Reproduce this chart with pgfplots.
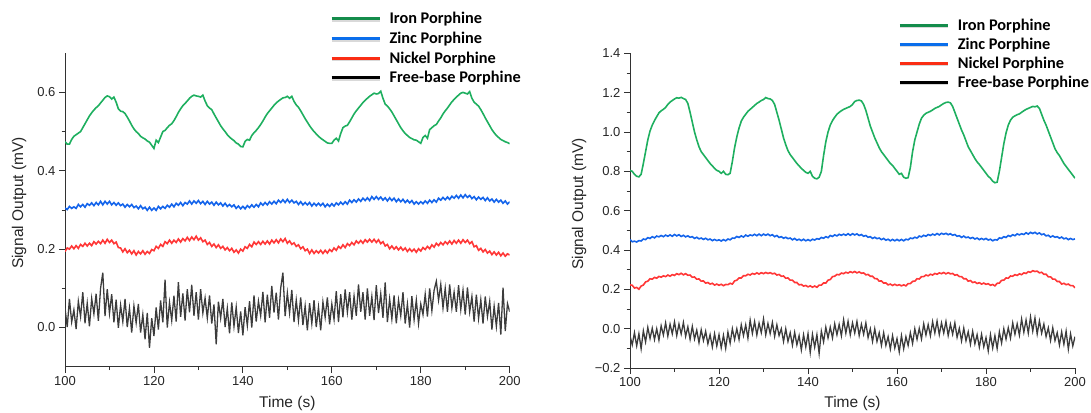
\documentclass[border=0pt]{standalone}
\usepackage{fontspec}
\setmainfont{Liberation Sans}
\newfontfamily\legfont{Carlito}
\usepackage{pgfplots}
\usepackage{pgfplotstable}
\pgfplotsset{compat=1.18}
\definecolor{pgreen}{RGB}{30,175,95}
\definecolor{pblue}{RGB}{20,100,235}
\definecolor{pred}{RGB}{255,55,55}
\definecolor{pblack}{RGB}{60,60,60}
\definecolor{lgreen}{RGB}{20,140,75}
\definecolor{lblue}{RGB}{10,110,235}
\definecolor{lred}{RGB}{250,45,20}
\definecolor{axcol}{RGB}{50,50,50}

\pgfplotstableread{
t fe zn ni fb
100 0.474 0.305 0.194 0.050
100.5 0.468 0.301 0.203 0.001
101 0.468 0.309 0.200 0.073
101.5 0.480 0.304 0.208 0.014
102 0.488 0.308 0.201 0.045
102.5 0.492 0.304 0.209 -0.004
103 0.496 0.314 0.202 0.067
103.5 0.500 0.308 0.212 0.028
104 0.510 0.314 0.207 0.090
104.5 0.520 0.307 0.215 0.011
105 0.530 0.316 0.208 0.062
105.5 0.540 0.312 0.215 0.003
106 0.548 0.318 0.209 0.074
106.5 0.555 0.311 0.219 0.035
107 0.561 0.319 0.213 0.086
107.5 0.566 0.313 0.220 0.017
108 0.573 0.322 0.214 0.100
108.5 0.580 0.313 0.223 0.140
109 0.587 0.322 0.215 0.029
109.5 0.591 0.315 0.225 0.098
110 0.589 0.322 0.217 0.036
110.5 0.583 0.313 0.223 0.085
111 0.588 0.319 0.214 0.013
111.5 0.575 0.312 0.218 0.071
112 0.558 0.318 0.204 -0.001
112.5 0.552 0.311 0.203 0.057
113 0.551 0.315 0.193 0.015
113.5 0.546 0.307 0.201 0.073
114 0.537 0.314 0.191 0.001
114.5 0.527 0.308 0.197 0.049
115 0.516 0.314 0.188 -0.013
115.5 0.507 0.306 0.196 0.055
116 0.500 0.310 0.185 0.012
116.5 0.495 0.303 0.194 0.060
117 0.488 0.311 0.188 -0.013
117.5 0.484 0.303 0.196 0.033
118 0.481 0.307 0.187 -0.030
118.5 0.476 0.299 0.194 0.037
119 0.473 0.307 0.189 -0.052
119.5 0.465 0.299 0.199 0.024
120 0.457 0.305 0.196 -0.022
120.5 0.478 0.299 0.207 0.051
121 0.472 0.309 0.202 -0.005
121.5 0.486 0.303 0.212 0.069
122 0.500 0.309 0.207 0.013
122.5 0.503 0.304 0.219 0.122
123 0.510 0.312 0.214 0.000
123.5 0.516 0.307 0.223 0.064
124 0.520 0.315 0.215 0.018
124.5 0.528 0.308 0.223 0.081
125 0.538 0.317 0.217 0.015
125.5 0.549 0.312 0.226 0.116
126 0.558 0.319 0.218 0.027
126.5 0.566 0.311 0.227 0.087
127 0.572 0.319 0.221 0.018
127.5 0.578 0.315 0.230 0.098
128 0.585 0.323 0.222 0.039
128.5 0.590 0.315 0.231 0.109
129 0.593 0.323 0.224 0.030
129.5 0.591 0.317 0.233 0.090
130 0.590 0.324 0.223 0.020
130.5 0.588 0.316 0.229 0.098
131 0.593 0.322 0.219 0.037
131.5 0.578 0.314 0.223 0.075
132 0.566 0.322 0.212 0.024
132.5 0.560 0.315 0.217 0.082
133 0.556 0.320 0.207 0.010
133.5 0.545 0.312 0.213 0.059
134 0.535 0.320 0.204 -0.043
134.5 0.525 0.313 0.211 0.066
135 0.515 0.318 0.202 0.024
135.5 0.507 0.310 0.207 0.073
136 0.500 0.317 0.198 0.001
136.5 0.492 0.309 0.204 0.049
137 0.486 0.314 0.196 -0.015
137.5 0.481 0.308 0.202 0.064
138 0.477 0.313 0.192 0.003
138.5 0.471 0.304 0.198 0.052
139 0.468 0.310 0.190 -0.014
139.5 0.462 0.303 0.200 0.041
140 0.461 0.309 0.195 -0.020
140.5 0.475 0.303 0.206 0.052
141 0.480 0.311 0.202 0.005
141.5 0.478 0.306 0.212 0.067
142 0.490 0.313 0.206 0.000
142.5 0.497 0.307 0.218 0.082
143 0.503 0.314 0.212 0.015
143.5 0.510 0.308 0.219 0.067
144 0.518 0.318 0.212 0.030
144.5 0.527 0.312 0.220 0.091
145 0.537 0.319 0.213 0.013
145.5 0.546 0.313 0.221 0.084
146 0.553 0.321 0.213 0.025
146.5 0.560 0.315 0.223 0.106
147 0.567 0.322 0.216 0.038
147.5 0.573 0.316 0.224 0.089
148 0.578 0.325 0.216 0.020
148.5 0.582 0.319 0.226 0.100
149 0.586 0.326 0.219 0.140
149.5 0.587 0.319 0.227 0.029
150 0.590 0.327 0.215 0.088
150.5 0.585 0.319 0.221 0.037
151 0.590 0.325 0.212 0.096
151.5 0.577 0.318 0.216 0.014
152 0.568 0.322 0.207 0.070
152.5 0.562 0.314 0.211 0.018
153 0.553 0.321 0.201 0.077
153.5 0.543 0.313 0.206 0.006
154 0.533 0.319 0.196 0.055
154.5 0.524 0.313 0.200 -0.007
155 0.515 0.319 0.189 0.062
155.5 0.507 0.310 0.198 0.010
156 0.500 0.317 0.189 0.070
156.5 0.494 0.311 0.196 0.001
157 0.488 0.317 0.190 0.052
157.5 0.483 0.311 0.197 -0.007
158 0.479 0.317 0.189 0.065
158.5 0.475 0.308 0.197 0.026
159 0.471 0.315 0.190 0.077
159.5 0.470 0.309 0.199 0.008
160 0.470 0.316 0.194 0.060
160.5 0.478 0.310 0.203 0.021
161 0.483 0.318 0.197 0.093
161.5 0.476 0.313 0.207 0.014
162 0.495 0.320 0.202 0.085
162.5 0.510 0.314 0.211 0.026
163 0.514 0.321 0.204 0.097
163.5 0.516 0.315 0.214 0.039
164 0.525 0.325 0.209 0.090
164.5 0.535 0.319 0.217 0.020
165 0.545 0.326 0.211 0.080
165.5 0.553 0.320 0.221 0.030
166 0.560 0.328 0.215 0.110
166.5 0.567 0.322 0.222 0.040
167 0.574 0.330 0.215 0.090
167.5 0.580 0.324 0.224 0.020
168 0.585 0.331 0.218 0.100
168.5 0.590 0.324 0.225 0.030
169 0.594 0.334 0.218 0.079
169.5 0.598 0.327 0.225 0.019
170 0.596 0.334 0.217 0.108
170.5 0.597 0.327 0.224 0.037
171 0.603 0.333 0.214 0.086
171.5 0.585 0.325 0.219 0.025
172 0.570 0.331 0.208 0.115
172.5 0.565 0.323 0.212 0.014
173 0.558 0.331 0.201 0.073
173.5 0.550 0.324 0.208 0.022
174 0.540 0.330 0.200 0.082
174.5 0.530 0.321 0.206 0.011
175 0.520 0.328 0.198 0.070
175.5 0.510 0.321 0.205 0.030
176 0.502 0.327 0.197 0.090
176.5 0.495 0.319 0.203 0.010
177 0.490 0.325 0.194 0.060
177.5 0.485 0.318 0.201 0.000
178 0.482 0.324 0.194 0.080
178.5 0.479 0.315 0.200 0.020
179 0.478 0.321 0.192 0.070
179.5 0.474 0.315 0.201 0.010
180 0.470 0.321 0.195 0.060
180.5 0.485 0.316 0.204 0.033
181 0.490 0.323 0.199 0.085
181.5 0.483 0.317 0.207 0.028
182 0.505 0.325 0.201 0.100
182.5 0.510 0.319 0.211 0.043
183 0.515 0.326 0.205 0.095
183.5 0.518 0.320 0.215 0.118
184 0.527 0.330 0.209 0.070
184.5 0.535 0.325 0.217 0.110
185 0.545 0.332 0.211 0.050
185.5 0.553 0.326 0.219 0.100
186 0.560 0.333 0.213 0.040
186.5 0.568 0.327 0.221 0.110
187 0.576 0.335 0.213 0.050
187.5 0.582 0.330 0.222 0.090
188 0.588 0.337 0.215 0.040
188.5 0.593 0.330 0.223 0.108
189 0.598 0.338 0.215 0.046
189.5 0.600 0.331 0.224 0.095
190 0.598 0.339 0.217 0.033
190.5 0.596 0.332 0.223 0.102
191 0.602 0.337 0.214 0.040
191.5 0.585 0.329 0.219 0.079
192 0.575 0.334 0.206 0.015
192.5 0.570 0.326 0.209 0.084
193 0.565 0.333 0.197 0.023
193.5 0.556 0.327 0.202 0.071
194 0.546 0.332 0.193 0.010
194.5 0.535 0.324 0.199 0.079
195 0.525 0.331 0.190 0.028
195.5 0.515 0.323 0.195 0.067
196 0.505 0.328 0.186 -0.005
196.5 0.497 0.320 0.193 0.054
197 0.490 0.327 0.185 0.003
197.5 0.485 0.320 0.192 0.063
198 0.480 0.325 0.183 -0.018
198.5 0.477 0.317 0.190 0.102
199 0.474 0.323 0.182 -0.009
199.5 0.472 0.315 0.188 0.061
200 0.469 0.321 0.185 0.040
}\leftdata

\pgfplotstableread{
t fe zn ni fb
100 0.805 0.453 0.223 -0.035
100.5 0.800 0.442 0.221 -0.082
101 0.785 0.445 0.207 -0.020
101.5 0.775 0.441 0.210 -0.087
102 0.772 0.448 0.201 -0.025
102.5 0.785 0.446 0.217 -0.102
103 0.840 0.456 0.222 -0.010
103.5 0.900 0.453 0.238 -0.067
104 0.960 0.463 0.242 0.007
104.5 1.005 0.459 0.254 -0.050
105 1.035 0.468 0.252 0.003
105.5 1.058 0.462 0.261 -0.055
106 1.078 0.471 0.257 0.000
106.5 1.097 0.467 0.266 -0.058
107 1.108 0.474 0.262 0.015
107.5 1.115 0.468 0.269 -0.032
108 1.125 0.476 0.265 0.030
108.5 1.140 0.470 0.273 -0.038
109 1.152 0.477 0.267 0.023
109.5 1.160 0.470 0.275 -0.026
110 1.168 0.479 0.271 0.035
110.5 1.174 0.472 0.280 -0.035
111 1.172 0.478 0.275 0.024
111.5 1.176 0.469 0.282 -0.027
112 1.170 0.475 0.274 0.032
112.5 1.165 0.467 0.280 -0.039
113 1.145 0.472 0.272 0.010
113.5 1.100 0.465 0.273 -0.054
114 1.050 0.468 0.262 0.012
114.5 1.000 0.459 0.263 -0.052
115 0.960 0.465 0.252 -0.007
115.5 0.925 0.457 0.253 -0.071
116 0.900 0.461 0.242 -0.005
116.5 0.885 0.454 0.243 -0.060
117 0.870 0.460 0.232 -0.013
117.5 0.855 0.452 0.235 -0.077
118 0.840 0.456 0.227 -0.030
118.5 0.828 0.448 0.231 -0.093
119 0.815 0.454 0.222 -0.025
119.5 0.805 0.448 0.227 -0.088
120 0.800 0.452 0.221 -0.030
120.5 0.790 0.446 0.226 -0.097
121 0.800 0.453 0.219 -0.033
121.5 0.785 0.447 0.225 -0.100
122 0.783 0.456 0.224 -0.017
122.5 0.790 0.452 0.231 -0.073
123 0.850 0.461 0.227 0.000
123.5 0.920 0.460 0.243 -0.055
124 0.975 0.469 0.247 0.000
124.5 1.020 0.464 0.258 -0.055
125 1.055 0.472 0.258 0.020
125.5 1.075 0.466 0.270 -0.035
126 1.090 0.476 0.269 0.020
126.5 1.105 0.470 0.277 -0.048
127 1.115 0.477 0.273 0.044
127.5 1.125 0.473 0.281 -0.024
128 1.135 0.480 0.277 0.037
128.5 1.145 0.473 0.284 -0.032
129 1.152 0.481 0.278 0.029
129.5 1.160 0.473 0.285 -0.020
130 1.165 0.481 0.280 0.050
130.5 1.175 0.475 0.286 -0.031
131 1.170 0.481 0.281 0.027
131.5 1.168 0.473 0.285 -0.025
132 1.160 0.478 0.279 0.032
132.5 1.140 0.468 0.282 -0.039
133 1.100 0.474 0.273 0.020
133.5 1.060 0.464 0.276 -0.035
134 1.015 0.468 0.267 0.000
134.5 0.970 0.460 0.268 -0.065
135 0.935 0.465 0.257 0.000
135.5 0.905 0.458 0.258 -0.065
136 0.885 0.461 0.247 -0.020
136.5 0.870 0.452 0.247 -0.084
137 0.855 0.459 0.235 -0.018
137.5 0.840 0.450 0.235 -0.082
138 0.828 0.455 0.223 -0.035
138.5 0.815 0.448 0.225 -0.108
139 0.805 0.455 0.217 -0.030
139.5 0.795 0.447 0.220 -0.093
140 0.790 0.453 0.213 -0.025
140.5 0.800 0.447 0.218 -0.121
141 0.775 0.455 0.211 -0.028
141.5 0.765 0.451 0.217 -0.094
142 0.762 0.458 0.211 -0.030
142.5 0.770 0.455 0.222 -0.126
143 0.800 0.464 0.222 -0.012
143.5 0.880 0.460 0.233 -0.067
144 0.950 0.468 0.232 0.008
144.5 1.000 0.463 0.247 -0.047
145 1.035 0.474 0.250 0.008
145.5 1.058 0.469 0.265 -0.047
146 1.075 0.477 0.267 0.025
146.5 1.090 0.472 0.276 -0.031
147 1.100 0.480 0.274 0.022
147.5 1.108 0.475 0.283 -0.036
148 1.115 0.481 0.280 0.046
148.5 1.120 0.475 0.287 -0.023
149 1.125 0.483 0.283 0.038
149.5 1.130 0.475 0.290 -0.031
150 1.140 0.483 0.285 0.030
150.5 1.155 0.477 0.291 -0.022
151 1.160 0.482 0.284 0.037
151.5 1.162 0.474 0.289 -0.035
152 1.158 0.479 0.282 0.023
152.5 1.140 0.470 0.284 -0.028
153 1.110 0.474 0.274 0.030
153.5 1.070 0.465 0.276 -0.045
154 1.030 0.468 0.267 0.000
154.5 1.000 0.459 0.267 -0.065
155 0.970 0.465 0.255 0.000
155.5 0.945 0.458 0.254 -0.065
156 0.920 0.461 0.242 -0.020
156.5 0.900 0.453 0.243 -0.085
157 0.885 0.459 0.232 -0.020
157.5 0.870 0.450 0.233 -0.085
158 0.855 0.455 0.223 -0.040
158.5 0.840 0.447 0.227 -0.103
159 0.830 0.454 0.220 -0.035
159.5 0.815 0.447 0.226 -0.098
160 0.800 0.454 0.220 -0.050
160.5 0.785 0.447 0.224 -0.118
161 0.790 0.454 0.218 -0.035
161.5 0.770 0.447 0.223 -0.102
162 0.765 0.455 0.218 -0.040
162.5 0.768 0.452 0.229 -0.085
163 0.820 0.461 0.229 -0.020
163.5 0.900 0.458 0.241 -0.075
164 0.960 0.465 0.242 0.000
164.5 1.000 0.461 0.254 -0.054
165 1.040 0.471 0.253 0.002
165.5 1.070 0.467 0.265 -0.052
166 1.085 0.475 0.265 0.025
166.5 1.095 0.470 0.273 -0.032
167 1.100 0.479 0.269 0.021
167.5 1.105 0.474 0.277 -0.036
168 1.112 0.481 0.273 0.036
168.5 1.120 0.476 0.281 -0.022
169 1.125 0.484 0.277 0.039
169.5 1.130 0.477 0.284 -0.030
170 1.138 0.485 0.280 0.030
170.5 1.145 0.480 0.286 -0.022
171 1.150 0.485 0.279 0.037
171.5 1.152 0.478 0.285 -0.035
172 1.148 0.483 0.279 0.023
172.5 1.130 0.475 0.281 -0.028
173 1.100 0.479 0.272 0.030
173.5 1.070 0.470 0.275 -0.044
174 1.040 0.473 0.265 0.002
174.5 1.010 0.464 0.265 -0.062
175 0.985 0.471 0.254 0.003
175.5 0.955 0.463 0.254 -0.061
176 0.925 0.466 0.242 -0.015
176.5 0.905 0.459 0.245 -0.079
177 0.885 0.464 0.235 -0.013
177.5 0.865 0.456 0.238 -0.077
178 0.848 0.461 0.230 -0.030
178.5 0.835 0.453 0.234 -0.094
179 0.820 0.459 0.227 -0.028
179.5 0.805 0.453 0.232 -0.092
180 0.790 0.459 0.226 -0.045
180.5 0.775 0.451 0.229 -0.113
181 0.765 0.455 0.221 -0.030
181.5 0.750 0.447 0.225 -0.098
182 0.742 0.453 0.218 -0.035
182.5 0.745 0.451 0.231 -0.101
183 0.800 0.462 0.232 -0.016
183.5 0.870 0.459 0.246 -0.073
184 0.940 0.468 0.247 0.000
184.5 0.995 0.464 0.258 -0.053
185 1.035 0.474 0.257 0.005
185.5 1.060 0.469 0.268 -0.048
186 1.075 0.478 0.267 0.030
186.5 1.082 0.473 0.275 -0.028
187 1.088 0.482 0.271 0.025
187.5 1.092 0.477 0.279 -0.033
188 1.100 0.483 0.275 0.050
188.5 1.108 0.479 0.284 -0.018
189 1.115 0.488 0.281 0.045
189.5 1.120 0.481 0.290 -0.023
190 1.125 0.490 0.287 0.060
190.5 1.130 0.484 0.295 -0.012
191 1.128 0.490 0.291 0.055
191.5 1.132 0.482 0.293 -0.027
192 1.120 0.487 0.284 0.040
192.5 1.090 0.478 0.287 -0.023
193 1.060 0.482 0.277 0.024
193.5 1.035 0.472 0.277 -0.040
194 1.005 0.475 0.264 0.005
194.5 0.975 0.466 0.264 -0.060
195 0.945 0.472 0.252 0.005
195.5 0.915 0.465 0.252 -0.060
196 0.895 0.468 0.240 -0.020
196.5 0.880 0.460 0.240 -0.083
197 0.860 0.466 0.227 -0.016
197.5 0.840 0.457 0.231 -0.079
198 0.825 0.461 0.224 -0.012
198.5 0.810 0.453 0.227 -0.104
199 0.795 0.459 0.219 -0.026
199.5 0.780 0.453 0.219 -0.088
200 0.765 0.457 0.208 -0.040
}\rightdata

\pgfplotsset{
  panel/.style={
    scale only axis,
    anchor=south west,
    axis lines=left,
    axis line style={-, color=axcol, line width=0.9pt},
    tick style={color=axcol, line width=0.8pt},
    tick align=outside,
    major tick length=6pt,
    minor tick length=3.5pt,
    xmin=100, xmax=200,
    xtick={100,120,140,160,180,200},
    xticklabels={100,120,140,160,180,200},
    minor x tick num=1,
    minor y tick num=1,
    ticklabel style={font=\fontsize{13}{13}\selectfont, text=black!85},
    xlabel={Time (s)},
    ylabel={Signal Output (mV)},
    label style={font=\fontsize{15.5}{15.5}\selectfont, text=black!85},
    legend cell align=left,
    legend image code/.code={
      \path[draw=none, fill=none] (0pt,-5pt) rectangle (48pt,1.6pt);
      \draw[black!15, line width=3pt] (0.6pt,-1.7pt) -- (48.6pt,-1.7pt);
      \draw[##1] (0pt,0pt) -- (48pt,0pt);
    },
    legend style={draw=none, fill=none, inner sep=0pt, outer sep=0pt,
      anchor=north west,
      font=\legfont\bfseries\fontsize{16.3}{16.3}\selectfont,
      nodes={inner sep=0pt},
      column sep=8pt},
  },
  fe/.style={pgreen, line width=1.6pt},
  zn/.style={pblue, line width=1.6pt},
  ni/.style={pred, line width=1.6pt},
  fb/.style={pblack, line width=1.3pt},
}

\begin{document}
\begin{tikzpicture}
\useasboundingbox (0pt,0pt) rectangle (1091pt,412pt);

\begin{axis}[panel,
  at={(65pt,45.3pt)}, width=444.7pt, height=313.5pt,
  ymin=-0.1, ymax=0.7,
  ytick={0,0.2,0.4,0.6},
  yticklabels={0.0,0.2,0.4,0.6},
  xlabel style={at={(axis description cs:0.5,-0.1158)}, anchor=center},
  ylabel style={at={(axis description cs:-0.1034,0.522)}, anchor=center},
  legend style={at={(axis description cs:0.5959,1.1299)}, row sep=6.7pt},
]
\addplot[fe, forget plot] table[x=t, y=fe] {\leftdata};
\addplot[zn, forget plot] table[x=t, y=zn] {\leftdata};
\addplot[ni, forget plot] table[x=t, y=ni] {\leftdata};
\addplot[fb, forget plot] table[x=t, y=fb] {\leftdata};
\addlegendimage{lgreen, line width=3pt}
\addlegendentry{Iron Porphine}
\addlegendimage{lblue, line width=3pt}
\addlegendentry{Zinc Porphine}
\addlegendimage{lred, line width=3pt}
\addlegendentry{Nickel Porphine}
\addlegendimage{black, line width=3pt}
\addlegendentry{Free-base Porphine}
\end{axis}

\begin{axis}[panel,
  at={(630pt,43.9pt)}, width=445pt, height=314.8pt,
  ymin=-0.2, ymax=1.4,
  ytick={-0.2,0,0.2,0.4,0.6,0.8,1.0,1.2,1.4},
  yticklabels={−0.2,0.0,0.2,0.4,0.6,0.8,1.0,1.2,1.4},
  xlabel style={at={(axis description cs:0.5,-0.1129)}, anchor=center},
  ylabel style={at={(axis description cs:-0.1146,0.522)}, anchor=center},
  legend style={at={(axis description cs:0.6029,1.1103)}, row sep=6.1pt},
]
\addplot[fe, forget plot] table[x=t, y=fe] {\rightdata};
\addplot[zn, forget plot] table[x=t, y=zn] {\rightdata};
\addplot[ni, forget plot] table[x=t, y=ni] {\rightdata};
\addplot[fb, forget plot] table[x=t, y=fb] {\rightdata};
\addlegendimage{lgreen, line width=3pt}
\addlegendentry{Iron Porphine}
\addlegendimage{lblue, line width=3pt}
\addlegendentry{Zinc Porphine}
\addlegendimage{lred, line width=3pt}
\addlegendentry{Nickel Porphine}
\addlegendimage{black, line width=3pt}
\addlegendentry{Free-base Porphine}
\end{axis}
\end{tikzpicture}
\end{document}
